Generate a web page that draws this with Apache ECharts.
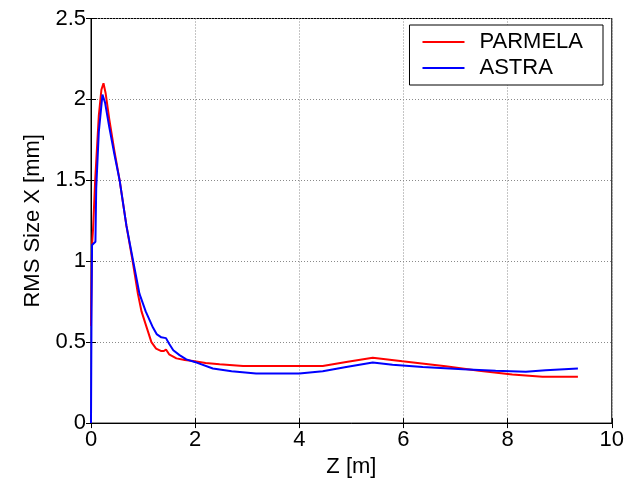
<!DOCTYPE html>
<html>
<head>
<meta charset="utf-8">
<script src="https://cdn.jsdelivr.net/npm/echarts@6/dist/echarts.min.js"></script>
<style>
  html, body { margin: 0; padding: 0; background: #fff; }
  #chart { width: 627px; height: 483px; }
</style>
</head>
<body>
<div id="chart"></div>
<script>
// values: [z (m), rms size x (mm)]
var parmela = [
  [0, 0.6], [0.02, 1.1], [0.04, 1.2], [0.08, 1.5], [0.15, 1.9], [0.2, 2.06], [0.24, 2.10],
  [0.28, 2.04], [0.35, 1.88], [0.45, 1.68], [0.55, 1.5], [0.68, 1.22], [0.8, 1.0],
  [0.9, 0.8], [0.97, 0.69], [1.07, 0.59], [1.16, 0.5], [1.25, 0.46], [1.35, 0.445],
  [1.40, 0.445], [1.44, 0.455], [1.5, 0.425], [1.64, 0.40], [1.8, 0.39], [1.96, 0.384],
  [2.2, 0.372], [2.47, 0.364], [2.92, 0.353], [4.45, 0.353], [4.9, 0.378], [5.41, 0.404],
  [5.98, 0.382], [6.81, 0.351], [7.45, 0.323], [8.09, 0.30], [8.67, 0.286], [9.35, 0.286]
];
var astra = [
  [0, 0], [0.01, 0.7], [0.02, 1.1], [0.085, 1.12], [0.1, 1.45], [0.15, 1.8], [0.22, 2.03],
  [0.27, 1.98], [0.35, 1.83], [0.45, 1.66], [0.55, 1.5], [0.68, 1.22], [0.81, 1.0],
  [0.93, 0.8], [1.05, 0.69], [1.19, 0.59], [1.26, 0.55], [1.35, 0.53], [1.44, 0.525],
  [1.5, 0.49], [1.58, 0.45], [1.7, 0.42], [1.83, 0.394], [1.99, 0.378], [2.34, 0.337],
  [2.7, 0.32], [3.17, 0.306], [4.0, 0.306], [4.45, 0.321], [4.9, 0.347], [5.41, 0.374],
  [5.79, 0.361], [6.37, 0.347], [7.14, 0.333], [7.77, 0.323], [8.35, 0.317], [8.73, 0.327],
  [9.35, 0.337]
];
var seriesNames = ['PARMELA', 'ASTRA'];

var font = 'Liberation Sans, Arial, sans-serif';
var chart = echarts.init(document.getElementById('chart'));

var gridLine = { show: true, lineStyle: { color: '#8a8a8a', type: [1, 2], width: 1 } };

chart.setOption({
  animation: false,
  grid: { left: 91, right: 15, top: 18.5, bottom: 56, show: true, borderColor: '#000', borderWidth: 1 },
  legend: {
    data: seriesNames,
    orient: 'vertical',
    right: 24, top: 25,
    padding: [6, 20, 6, 13],
    itemGap: 4,
    itemWidth: 42, itemHeight: 2,
    icon: 'rect',
    backgroundColor: '#fff',
    borderColor: '#000', borderWidth: 1,
    textStyle: { fontFamily: font, fontSize: 22, color: '#000', padding: [0, 0, 0, 10] }
  },
  xAxis: [{
    type: 'value', min: 0, max: 10, interval: 2,
    name: 'Z [m]', nameLocation: 'middle', nameGap: 24,
    nameTextStyle: { fontFamily: font, fontSize: 22, color: '#000' },
    axisLine: { show: true, lineStyle: { color: '#000' } },
    axisTick: { inside: true, length: 5, lineStyle: { color: '#000' } },
    axisLabel: { fontFamily: font, fontSize: 22, color: '#000', margin: 6 },
    splitLine: gridLine
  }, {
    type: 'value', min: 0, max: 10, interval: 2, position: 'top',
    axisLine: { show: false },
    axisTick: { inside: true, length: 5, lineStyle: { color: '#000' } },
    axisLabel: { show: false }, splitLine: { show: false }
  }],
  yAxis: [{
    type: 'value', min: 0, max: 2.5, interval: 0.5,
    name: 'RMS Size X [mm]', nameLocation: 'middle', nameGap: 47,
    nameTextStyle: { fontFamily: font, fontSize: 22, color: '#000' },
    axisLine: { show: true, lineStyle: { color: '#000' } },
    axisTick: { show: true, inside: true, length: 5, lineStyle: { color: '#000' } },
    axisLabel: { fontFamily: font, fontSize: 22, color: '#000', margin: 5 },
    splitLine: gridLine
  }, {
    type: 'value', min: 0, max: 2.5, interval: 0.5, position: 'right',
    axisLine: { show: false },
    axisTick: { show: true, inside: true, length: 5, lineStyle: { color: '#000' } },
    axisLabel: { show: false }, splitLine: { show: false }
  }],
  series: [{
    name: seriesNames[0], type: 'line', data: parmela,
    showSymbol: false, color: '#ff0000', lineStyle: { width: 2, color: '#ff0000' }
  }, {
    name: seriesNames[1], type: 'line', data: astra,
    showSymbol: false, color: '#0000ff', lineStyle: { width: 2, color: '#0000ff' }
  }]
});
</script>
</body>
</html>
